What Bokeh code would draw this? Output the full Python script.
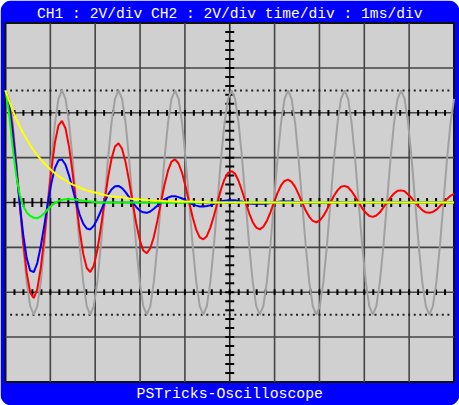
from bokeh.plotting import figure
from bokeh.models import Range1d, Label
from bokeh.embed import file_html
from bokeh.resources import INLINE

# ---------------- data ----------------
TITLE = "CH1 : 2V/div CH2 : 2V/div time/div : 1ms/div"
FOOTER = "PSTricks-Oscilloscope"

# sample times in divisions: one sample every 1/16 of the 1.26-div period seen on screen
t = [round(k * 0.07875, 5) for k in range(128)]

# channel 1 (grey): steady sine, 2.5 div amplitude
gray = [
    2.5, 2.31, 1.77, 0.96, 0.0, -0.96, -1.77, -2.31, -2.5, -2.31, -1.77, -0.96, 0.0, 0.96, 1.77, 2.31,
    2.5, 2.31, 1.77, 0.96, 0.0, -0.96, -1.77, -2.31, -2.5, -2.31, -1.77, -0.96, 0.0, 0.96, 1.77, 2.31,
    2.5, 2.31, 1.77, 0.96, 0.0, -0.96, -1.77, -2.31, -2.5, -2.31, -1.77, -0.96, 0.0, 0.96, 1.77, 2.31,
    2.5, 2.31, 1.77, 0.96, 0.0, -0.96, -1.77, -2.31, -2.5, -2.31, -1.77, -0.96, 0.0, 0.96, 1.77, 2.31,
    2.5, 2.31, 1.77, 0.96, 0.0, -0.96, -1.77, -2.31, -2.5, -2.31, -1.77, -0.96, 0.0, 0.96, 1.77, 2.31,
    2.5, 2.31, 1.77, 0.96, 0.0, -0.96, -1.77, -2.31, -2.5, -2.31, -1.77, -0.96, 0.0, 0.96, 1.77, 2.31,
    2.5, 2.31, 1.77, 0.96, 0.0, -0.96, -1.77, -2.31, -2.5, -2.31, -1.77, -0.96, 0.0, 0.96, 1.77, 2.31,
    2.5, 2.31, 1.77, 0.96, 0.0, -0.96, -1.77, -2.31, -2.5, -2.31, -1.77, -0.96, 0.0, 0.96, 1.77, 2.31,
]

# red: slowly damped oscillation
red = [
    2.5, 2.26, 1.70, 0.90, 0.0, -0.87, -1.57, -2.01, -2.13, -1.93, -1.45, -0.77, 0.0, 0.74, 1.34, 1.72,
    1.82, 1.65, 1.24, 0.66, 0.0, -0.63, -1.14, -1.46, -1.55, -1.41, -1.06, -0.56, 0.0, 0.54, 0.97, 1.25,
    1.32, 1.20, 0.90, 0.48, 0.0, -0.46, -0.83, -1.07, -1.13, -1.02, -0.77, -0.41, 0.0, 0.39, 0.71, 0.91,
    0.96, 0.87, 0.66, 0.35, 0.0, -0.33, -0.61, -0.78, -0.82, -0.75, -0.56, -0.30, 0.0, 0.29, 0.52, 0.66,
    0.70, 0.64, 0.48, 0.25, 0.0, -0.24, -0.44, -0.56, -0.60, -0.54, -0.41, -0.22, 0.0, 0.21, 0.38, 0.48,
    0.51, 0.46, 0.35, 0.18, 0.0, -0.18, -0.32, -0.41, -0.44, -0.40, -0.30, -0.16, 0.0, 0.15, 0.27, 0.35,
    0.37, 0.34, 0.25, 0.13, 0.0, -0.13, -0.23, -0.30, -0.32, -0.29, -0.22, -0.11, 0.0, 0.11, 0.20, 0.26,
    0.27, 0.25, 0.18, 0.10, 0.0, -0.09, -0.17, -0.22, -0.23, -0.21, -0.16, -0.08, 0.0, 0.08, 0.15, 0.19,
]

# blue: strongly damped oscillation
blue = [
    2.5, 2.18, 1.57, 0.80, 0.0, -0.71, -1.24, -1.52, -1.55, -1.35, -0.97, -0.50, 0.0, 0.44, 0.77, 0.94,
    0.96, 0.84, 0.60, 0.31, 0.0, -0.27, -0.47, -0.58, -0.60, -0.52, -0.37, -0.19, 0.0, 0.17, 0.29, 0.36,
    0.37, 0.32, 0.23, 0.12, 0.0, -0.10, -0.18, -0.22, -0.23, -0.20, -0.14, -0.07, 0.0, 0.07, 0.11, 0.14,
    0.14, 0.12, 0.09, 0.05, 0.0, -0.04, -0.07, -0.09, -0.09, -0.08, -0.06, -0.03, 0.0, 0.03, 0.04, 0.05,
    0.05, 0.05, 0.03, 0.02, 0.0, -0.02, -0.03, -0.03, -0.03, -0.03, -0.02, -0.01, 0.0, 0.01, 0.02, 0.02,
    0.02, 0.02, 0.01, 0.01, 0.0, -0.01, -0.01, -0.01, -0.01, -0.01, -0.01, 0.0, 0.0, 0.0, 0.01, 0.01,
    0.0, 0.0, 0.0, 0.0, 0.0, 0.0, 0.0, 0.0, 0.0, 0.0, 0.0, 0.0, 0.0, 0.0, 0.0, 0.0,
    0.0, 0.0, 0.0, 0.0, 0.0, 0.0, 0.0, 0.0, 0.0, 0.0, 0.0, 0.0, 0.0, 0.0, 0.0, 0.0,
]

# green: heavily damped response with one small undershoot
green = [
    2.5, 2.0, 1.25, 0.62, 0.18, -0.08, -0.22, -0.30, -0.34, -0.35, -0.31, -0.24, -0.15, -0.07, -0.01, 0.03,
    0.06, 0.07, 0.07, 0.07, 0.06, 0.05, 0.04, 0.03, 0.02, 0.01, 0.0, 0.0, 0.0, 0.0, 0.0, 0.0,
    0.0, 0.0, 0.0, 0.0, 0.0, 0.0, 0.0, 0.0, 0.0, 0.0, 0.0, 0.0, 0.0, 0.0, 0.0, 0.0,
    0.0, 0.0, 0.0, 0.0, 0.0, 0.0, 0.0, 0.0, 0.0, 0.0, 0.0, 0.0, 0.0, 0.0, 0.0, 0.0,
    0.0, 0.0, 0.0, 0.0, 0.0, 0.0, 0.0, 0.0, 0.0, 0.0, 0.0, 0.0, 0.0, 0.0, 0.0, 0.0,
    0.0, 0.0, 0.0, 0.0, 0.0, 0.0, 0.0, 0.0, 0.0, 0.0, 0.0, 0.0, 0.0, 0.0, 0.0, 0.0,
    0.0, 0.0, 0.0, 0.0, 0.0, 0.0, 0.0, 0.0, 0.0, 0.0, 0.0, 0.0, 0.0, 0.0, 0.0, 0.0,
    0.0, 0.0, 0.0, 0.0, 0.0, 0.0, 0.0, 0.0, 0.0, 0.0, 0.0, 0.0, 0.0, 0.0, 0.0, 0.0,
]

# yellow: exponential decay
yellow = [
    2.5, 2.27, 2.06, 1.87, 1.70, 1.55, 1.41, 1.28, 1.16, 1.05, 0.96, 0.87, 0.79, 0.72, 0.65, 0.59,
    0.54, 0.49, 0.44, 0.40, 0.37, 0.33, 0.30, 0.27, 0.25, 0.23, 0.21, 0.19, 0.17, 0.15, 0.14, 0.13,
    0.12, 0.11, 0.10, 0.09, 0.08, 0.07, 0.07, 0.06, 0.05, 0.05, 0.04, 0.04, 0.04, 0.03, 0.03, 0.03,
    0.02, 0.02, 0.02, 0.02, 0.02, 0.02, 0.01, 0.01, 0.01, 0.01, 0.0, 0.0, 0.0, 0.0, 0.0, 0.0,
    0.0, 0.0, 0.0, 0.0, 0.0, 0.0, 0.0, 0.0, 0.0, 0.0, 0.0, 0.0, 0.0, 0.0, 0.0, 0.0,
    0.0, 0.0, 0.0, 0.0, 0.0, 0.0, 0.0, 0.0, 0.0, 0.0, 0.0, 0.0, 0.0, 0.0, 0.0, 0.0,
    0.0, 0.0, 0.0, 0.0, 0.0, 0.0, 0.0, 0.0, 0.0, 0.0, 0.0, 0.0, 0.0, 0.0, 0.0, 0.0,
    0.0, 0.0, 0.0, 0.0, 0.0, 0.0, 0.0, 0.0, 0.0, 0.0, 0.0, 0.0, 0.0, 0.0, 0.0, 0.0,
]

# ---------------- layout ----------------
PX = 44.85            # pixels per division
W, H = 459, 405
X0 = -5 / PX
X1 = X0 + W / PX
Y1 = 202 / PX
Y0 = Y1 - H / PX

p = figure(width=W, height=H, x_range=Range1d(X0, X1), y_range=Range1d(Y0, Y1),
           output_backend="svg", toolbar_location=None,
           x_axis_type=None, y_axis_type=None, min_border=0,
           outline_line_color=None, background_fill_color="white",
           border_fill_color="white")

# blue rounded case
p.quad(left=[X0], right=[X1], bottom=[Y0], top=[Y1], fill_color="#0000ff",
       line_color=None, border_radius=11)

# screen
p.quad(left=[0], right=[10], bottom=[-4], top=[4], fill_color="#d0d0d0",
       line_color="#111111", line_width=2)

GRID = "#454545"
vx = [1, 2, 3, 4, 6, 7, 8, 9]
p.segment(x0=vx, y0=[-4] * len(vx), x1=vx, y1=[4] * len(vx),
          line_color=GRID, line_width=1.6)
hy = [-3, -2, -1, 1, 2, 3]
p.segment(x0=[0] * len(hy), y0=hy, x1=[10] * len(hy), y1=hy,
          line_color=GRID, line_width=1.6)

# centre axes
p.segment(x0=[0, 5], y0=[0, -4], x1=[10, 5], y1=[0, 4],
          line_color="#202020", line_width=1.6)

# ticks every 1/5 division
tx = [i / 5 for i in range(1, 50)]
ty = [i / 5 - 4 for i in range(1, 40)]
TL = 0.1
p.segment(x0=tx, y0=[-TL] * len(tx), x1=tx, y1=[TL] * len(tx),
          line_color="black", line_width=2)
p.segment(x0=[5 - TL] * len(ty), y0=ty, x1=[5 + TL] * len(ty), y1=ty,
          line_color="black", line_width=2)
TS = 0.065
for yl in (2, -2):
    p.segment(x0=tx, y0=[yl - TS] * len(tx), x1=tx, y1=[yl + TS] * len(tx),
              line_color="black", line_width=2)

# dotted level lines
dx = [i / 8 for i in range(1, 80)]
for yl in (2.5, -2.5):
    p.scatter(x=dx, y=[yl] * len(dx), marker="square", size=2,
              fill_color="#222222", line_color=None)

# traces
p.line(t, gray, line_color="#a0a0a0", line_width=2)
p.line(t, red, line_color="#ff0000", line_width=2)
p.line(t, blue, line_color="#0000ff", line_width=2)
p.line(t, green, line_color="#00ff00", line_width=2)
p.line(t, yellow, line_color="#ffff00", line_width=2)

# texts
p.add_layout(Label(x=5, y=(202 - 13) / PX, text=TITLE, text_align="center",
                   text_baseline="middle", text_color="white",
                   text_font="Liberation Mono", text_font_size="14.6px"))
p.add_layout(Label(x=5, y=(202 - 393) / PX, text=FOOTER, text_align="center",
                   text_baseline="middle", text_color="white",
                   text_font="Liberation Mono", text_font_size="14.8px"))

open("out.html", "w").write(file_html(p, INLINE, title="PSTricks-Oscilloscope"))
